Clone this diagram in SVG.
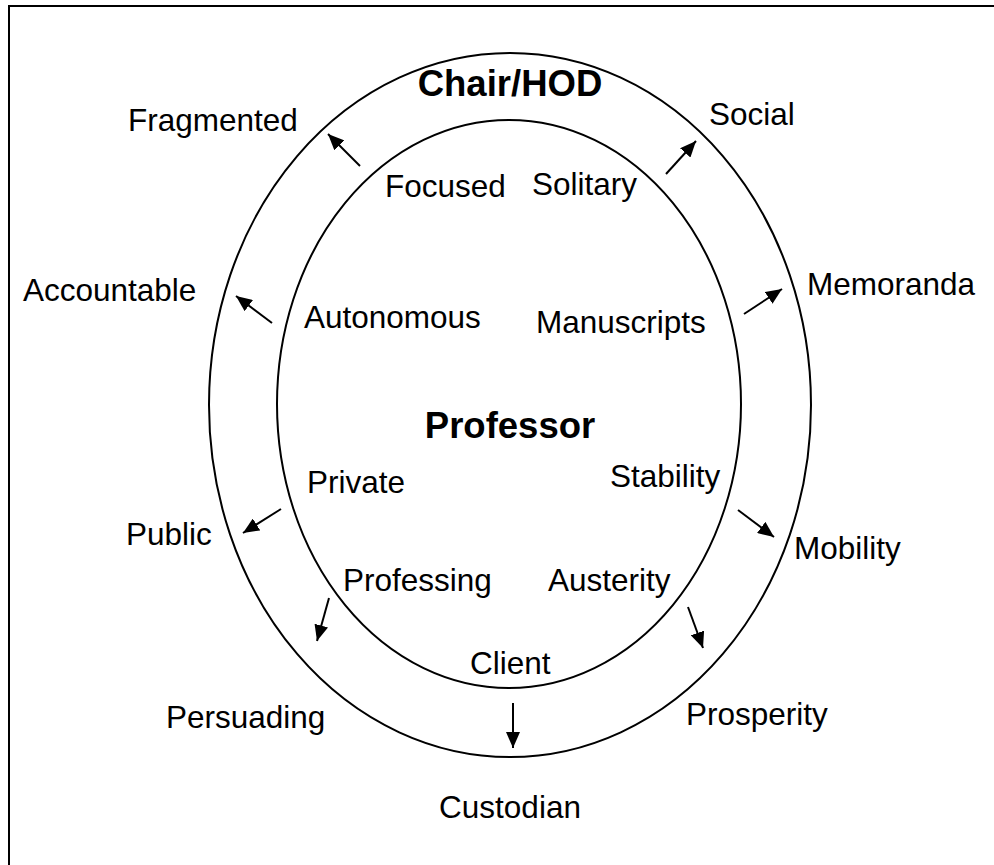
<svg xmlns="http://www.w3.org/2000/svg" width="994" height="865" viewBox="0 0 994 865">
<style>
text{font-family:"Liberation Sans",Arial,sans-serif;fill:#000}
.t{font-size:31.5px}
.b{font-size:36.5px;font-weight:bold}
.ring{fill:none;stroke:#000;stroke-width:2}
.arr{stroke:#000;stroke-width:2;fill:none;marker-end:url(#ah)}
</style>
<defs>
<marker id="ah" markerUnits="userSpaceOnUse" markerWidth="16" markerHeight="14" refX="16" refY="7" orient="auto" viewBox="0 0 16 14">
<path d="M0,0 L16,7 L0,14 z" fill="#000"/>
</marker>
</defs>
<rect width="994" height="865" fill="#fff"/>
<path d="M9,870 L9,6 L1000,6" fill="none" stroke="#000" stroke-width="2"/>
<g id="outer-ring">
<ellipse class="ring" cx="510" cy="405" rx="301" ry="352"/>
<text class="b" x="510" y="96" text-anchor="middle">Chair/HOD</text>
</g>
<g id="inner-ring">
<ellipse class="ring" cx="509" cy="404" rx="232" ry="284"/>
<text class="b" x="510" y="438" text-anchor="middle">Professor</text>
</g>
<g id="n-focused"><text class="t" x="385" y="197">Focused</text></g>
<g id="n-solitary"><text class="t" x="532" y="195">Solitary</text></g>
<g id="n-autonomous"><text class="t" x="304" y="328">Autonomous</text></g>
<g id="n-manuscripts"><text class="t" x="536" y="333">Manuscripts</text></g>
<g id="n-private"><text class="t" x="307" y="493">Private</text></g>
<g id="n-stability"><text class="t" x="610" y="487">Stability</text></g>
<g id="n-professing"><text class="t" x="343" y="591">Professing</text></g>
<g id="n-austerity"><text class="t" x="548" y="591">Austerity</text></g>
<g id="n-client"><text class="t" x="470" y="674">Client</text></g>
<g id="n-fragmented"><text class="t" x="128" y="131">Fragmented</text></g>
<g id="n-social"><text class="t" x="709" y="125">Social</text></g>
<g id="n-accountable"><text class="t" x="23" y="301">Accountable</text></g>
<g id="n-memoranda"><text class="t" x="807" y="295">Memoranda</text></g>
<g id="n-public"><text class="t" x="126" y="545">Public</text></g>
<g id="n-mobility"><text class="t" x="794" y="559">Mobility</text></g>
<g id="n-persuading"><text class="t" x="166" y="728">Persuading</text></g>
<g id="n-prosperity"><text class="t" x="686" y="725">Prosperity</text></g>
<g id="n-custodian"><text class="t" x="510" y="818" text-anchor="middle">Custodian</text></g>
<g id="connectors">
<line class="arr" x1="360" y1="166" x2="328" y2="134"/>
<line class="arr" x1="666" y1="174" x2="696" y2="141"/>
<line class="arr" x1="272" y1="323" x2="236" y2="296"/>
<line class="arr" x1="744" y1="314" x2="782" y2="289"/>
<line class="arr" x1="281" y1="509" x2="243" y2="533"/>
<line class="arr" x1="738" y1="510" x2="774" y2="537"/>
<line class="arr" x1="329" y1="598" x2="317" y2="641"/>
<line class="arr" x1="688" y1="607" x2="703" y2="648"/>
<line class="arr" x1="513" y1="703" x2="513" y2="748"/>
</g>
</svg>
